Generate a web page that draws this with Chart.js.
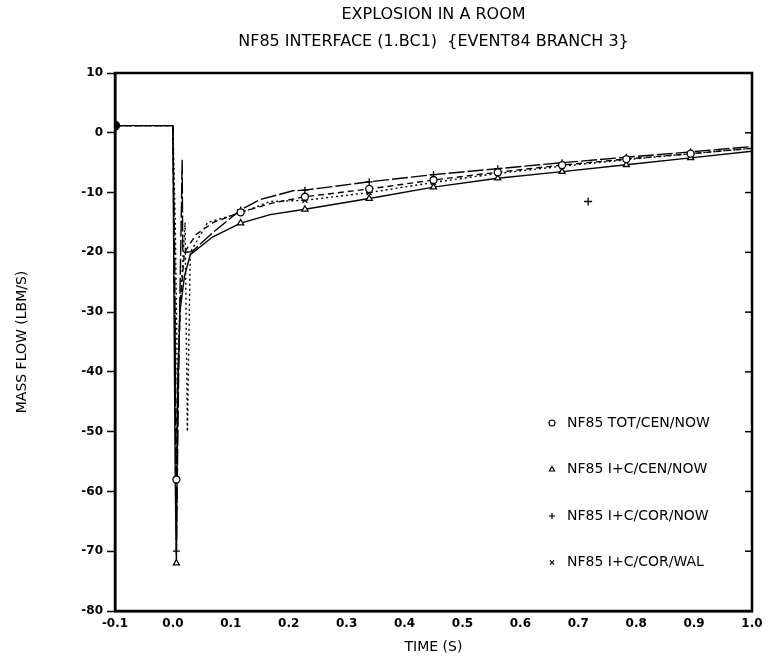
<!DOCTYPE html>
<html>
<head>
<meta charset="utf-8">
<script src="https://cdn.jsdelivr.net/npm/chart.js@4.4.0/dist/chart.umd.min.js"></script>
<style>
  html, body { margin: 0; padding: 0; background: #fff; }
  #wrap { width: 769px; height: 666px; }
</style>
</head>
<body>
<div id="wrap"><canvas id="grafico"></canvas></div>
<script>
// values (time in s, mass flow in lbm/s)
const markerTimes = [0.006, 0.117, 0.228, 0.339, 0.45, 0.561, 0.672, 0.783, 0.894];

const totCenTimes  = [-0.1, 0.0, 0.002, 0.004, 0.006, 0.009, 0.013, 0.02, 0.04, 0.07, 0.117, 0.17, 0.228, 0.339, 0.45, 0.561, 0.672, 0.783, 0.894, 1.0];
const totCenValues = [1.2, 1.2, -25, -30, -58, -40, -28, -20, -17, -15, -13.3, -11.8, -10.7, -9.4, -7.9, -6.6, -5.4, -4.4, -3.5, -2.6];

const icCenTimes  = [-0.1, 0.0, 0.002, 0.004, 0.006, 0.008, 0.012, 0.02, 0.03, 0.069, 0.117, 0.168, 0.228, 0.339, 0.45, 0.561, 0.672, 0.783, 0.894, 1.0];
const icCenValues = [1.2, 1.2, -30, -58, -72, -45, -30, -24, -20.4, -17.4, -15.1, -13.7, -12.8, -11.0, -9.1, -7.6, -6.5, -5.35, -4.2, -3.1];

const icCorTimes  = [-0.1, 0.0, 0.003, 0.006, 0.01, 0.016, 0.017, 0.033, 0.069, 0.117, 0.15, 0.207, 0.228, 0.339, 0.45, 0.561, 0.672, 0.783, 0.894, 1.0];
const icCorValues = [1.2, 1.2, -20, -70, -40, -4.5, -20, -19.9, -16.7, -12.9, -11.2, -9.7, -9.6, -8.2, -7.0, -6.0, -5.0, -4.1, -3.2, -2.3];

const icWalTimes  = [-0.1, 0.0, 0.004, 0.008, 0.012, 0.021, 0.025, 0.03, 0.06, 0.117, 0.168, 0.228, 0.339, 0.45, 0.561, 0.672, 0.783, 0.894, 1.0];
const icWalValues = [1.2, 1.2, -15, -43, -30, -15, -50, -20, -15, -13.4, -11.5, -11.3, -10.0, -8.3, -6.8, -5.6, -4.5, -3.5, -2.6];

const strayTimes  = [0.717];
const strayValues = [-11.5];

const seriesLabels = ['NF85 TOT/CEN/NOW', 'NF85 I+C/CEN/NOW', 'NF85 I+C/COR/NOW', 'NF85 I+C/COR/WAL'];
const titleLines = ['EXPLOSION IN A ROOM', 'NF85 INTERFACE (1.BC1)  {EVENT84 BRANCH 3}'];

const FONT = "'DejaVu Sans', sans-serif";

function pts(ts, vs) {
  return ts.map((t, i) => ({ x: t, y: vs[i] }));
}

function isMarker(t) {
  return markerTimes.some(m => Math.abs(m - t) < 1e-6);
}

function serie(label, ts, vs, style, dash) {
  return {
    label: label,
    data: pts(ts, vs),
    borderColor: '#000',
    borderWidth: 1.4,
    borderDash: dash,
    backgroundColor: '#fff',
    pointStyle: style,
    pointBorderColor: '#000',
    pointBorderWidth: 1.3,
    pointRadius: (c) => (c.raw && isMarker(c.raw.x)) ? 3.5 : 0,
    tension: 0
  };
}

const datasets = [
  serie(seriesLabels[0], totCenTimes, totCenValues, 'circle', [6, 4]),
  serie(seriesLabels[1], icCenTimes, icCenValues, 'triangle', []),
  serie(seriesLabels[2], icCorTimes, icCorValues, 'cross', [16, 3]),
  serie(seriesLabels[3], icWalTimes, icWalValues, 'crossRot', [2, 3]),
  {
    label: 'stray',
    data: pts(strayTimes, strayValues),
    showLine: false,
    pointStyle: 'cross',
    pointRadius: 4,
    pointBorderColor: '#000',
    pointBorderWidth: 1.3
  }
];

// first point: the filled dot on the left axis
datasets[1].pointRadius = (c) => {
  if (c.dataIndex === 0) return 4.5;
  return (c.raw && isMarker(c.raw.x)) ? 3.5 : 0;
};
datasets[1].pointStyle = (c) => c.dataIndex === 0 ? 'circle' : 'triangle';
datasets[1].pointBackgroundColor = (c) => c.dataIndex === 0 ? '#000' : '#fff';

const marcoYTitulos = {
  id: 'marcoYTitulos',
  afterDraw(chart) {
    const { ctx, chartArea: a } = chart;
    ctx.save();
    // frame
    ctx.strokeStyle = '#000';
    ctx.lineWidth = 2.5;
    ctx.strokeRect(a.left, a.top, a.right - a.left, a.bottom - a.top);

    // inward ticks on the right side
    ctx.lineWidth = 1.5;
    const ys = chart.scales.y;
    for (let v = -70; v <= 0; v += 10) {
      const py = ys.getPixelForValue(v);
      ctx.beginPath();
      ctx.moveTo(a.right, py);
      ctx.lineTo(a.right - 7, py);
      ctx.stroke();
    }

    // title
    const cx = (a.left + a.right) / 2;
    ctx.fillStyle = '#000';
    ctx.textAlign = 'center';
    ctx.textBaseline = 'middle';
    ctx.font = '16px ' + FONT;
    ctx.fillText(titleLines[0], cx, 15);
    ctx.fillText(titleLines[1], cx, 42);

    // legend inside the plot
    ctx.font = '14px ' + FONT;
    ctx.textAlign = 'left';
    const styles = ['circle', 'triangle', 'cross', 'crossRot'];
    for (let i = 0; i < seriesLabels.length; i++) {
      const y = a.top + 350 + i * 46.5;
      const x = a.right - 200;
      ctx.strokeStyle = '#000';
      ctx.fillStyle = '#fff';
      ctx.lineWidth = 1.2;
      Chart.helpers.drawPoint(ctx, { pointStyle: styles[i], radius: 3, rotation: 0, borderWidth: 1.2 }, x, y);
      ctx.fillStyle = '#000';
      ctx.fillText(seriesLabels[i], x + 15, y);
    }
    ctx.restore();
  }
};

new Chart(document.getElementById('grafico').getContext('2d'), {
  type: 'line',
  data: { datasets: datasets },
  options: {
    responsive: true,
    maintainAspectRatio: false,
    animation: false,
    layout: { padding: { top: 73, right: 17, left: 0, bottom: 0 } },
    plugins: {
      legend: { display: false },
      title: { display: false },
      tooltip: { enabled: false }
    },
    scales: {
      x: {
        type: 'linear',
        min: -0.1,
        max: 1.0,
        afterFit: (s) => { s.height = 55; },
        ticks: {
          stepSize: 0.1,
          color: '#000',
          padding: 6,
          maxRotation: 0,
          font: { family: FONT, size: 12, weight: 'bold' },
          callback: (v) => v.toFixed(1)
        },
        grid: { display: false, drawTicks: false },
        border: { color: '#000', width: 2.5 },
        title: {
          display: true,
          text: 'TIME (S)',
          color: '#000',
          font: { family: FONT, size: 14 },
          padding: { top: 0, bottom: 10 }
        }
      },
      y: {
        min: -80,
        max: 10,
        afterFit: (s) => { s.width = 115; },
        ticks: {
          stepSize: 10,
          color: '#000',
          padding: 4,
          font: { family: FONT, size: 12, weight: 'bold' }
        },
        grid: { drawOnChartArea: false, drawTicks: true, tickLength: 8, color: '#000', tickWidth: 1.5 },
        border: { color: '#000', width: 2.5 },
        title: {
          display: true,
          text: 'MASS FLOW (LBM/S)',
          color: '#000',
          font: { family: FONT, size: 14 },
          padding: { top: 14, bottom: 0 }
        }
      }
    }
  },
  plugins: [marcoYTitulos]
});
</script>
</body>
</html>
